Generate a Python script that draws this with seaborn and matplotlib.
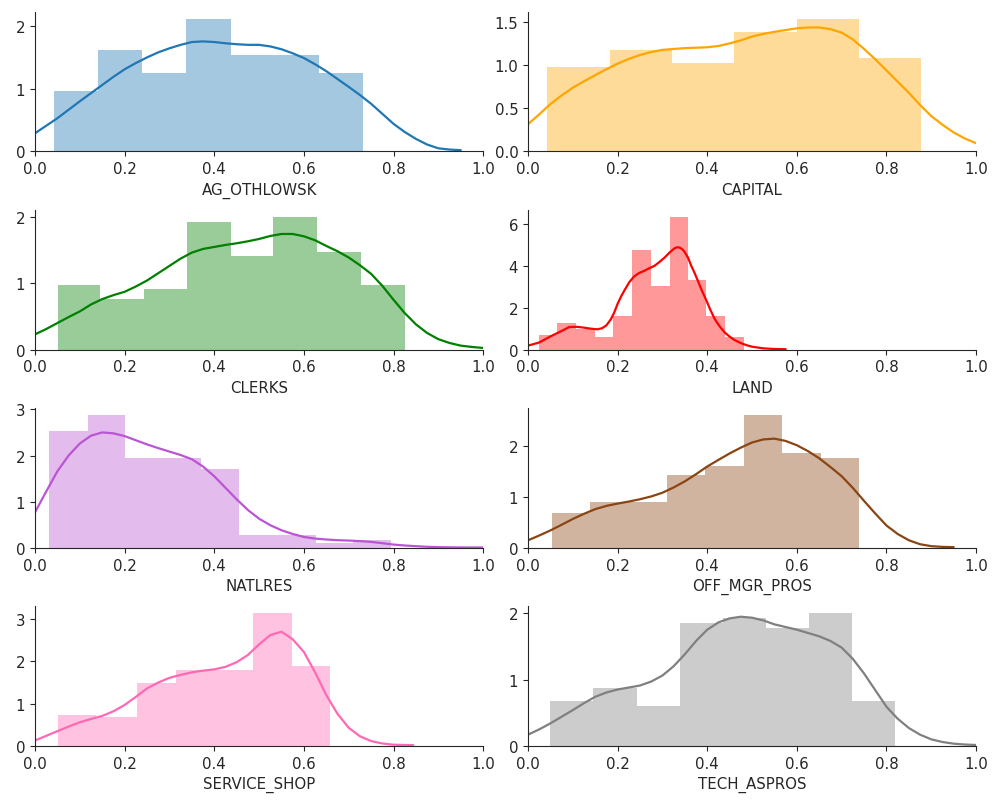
import pandas as pd
import matplotlib
matplotlib.use("Agg")
import matplotlib.pyplot as plt
import seaborn as sns

# ---------------- data ----------------
names = ["AG_OTHLOWSK", "CAPITAL", "CLERKS", "LAND",
         "NATLRES", "OFF_MGR_PROS", "SERVICE_SHOP", "TECH_ASPROS"]
colors = ["#1f77b4", "orange", "green", "red",
          "mediumorchid", "saddlebrown", "hotpink", "gray"]

# histogram bin edges and densities
ag_edges = [0.042, 0.1405, 0.2387, 0.336, 0.437, 0.535, 0.633, 0.731]
ag_heights = [0.956, 1.62, 1.25, 2.12, 1.54, 1.54, 1.25]

cap_edges = [0.0424, 0.182, 0.321, 0.460, 0.600, 0.739, 0.878]
cap_heights = [0.985, 1.18, 1.027, 1.39, 1.544, 1.084]

clk_edges = [0.0506, 0.1442, 0.2424, 0.3398, 0.437, 0.532, 0.629, 0.727, 0.825]
clk_heights = [0.978, 0.762, 0.909, 1.926, 1.405, 2.0, 1.474, 0.978]

land_edges = [0.0246, 0.0657, 0.1075, 0.149, 0.190, 0.232, 0.274, 0.316,
              0.357, 0.398, 0.440, 0.481]
land_heights = [0.705, 1.285, 1.0, 0.6, 1.6, 4.78, 3.04, 6.35, 3.34, 1.6, 0.58]

nat_edges = [0.032, 0.118, 0.200, 0.285, 0.3695, 0.4558, 0.5405, 0.626,
             0.7085, 0.794]
nat_heights = [2.53, 2.88, 1.95, 1.95, 1.71, 0.27, 0.27, 0.107, 0.18]

off_edges = [0.0535, 0.139, 0.225, 0.310, 0.396, 0.482, 0.567, 0.653, 0.738]
off_heights = [0.68, 0.90, 0.90, 1.43, 1.60, 2.60, 1.86, 1.756]

svc_edges = [0.0506, 0.1368, 0.2268, 0.3138, 0.400, 0.487, 0.5725, 0.659]
svc_heights = [0.736, 0.674, 1.496, 1.806, 1.806, 3.14, 1.88]

tech_edges = [0.0498, 0.145, 0.2424, 0.3398, 0.4357, 0.5316, 0.6268,
              0.7234, 0.8186]
tech_heights = [0.68, 0.88, 0.60, 1.85, 1.93, 1.78, 2.0, 0.68]

# kernel density curves (x, density)
kde_x = [0.0, 0.025, 0.05, 0.075, 0.1, 0.125, 0.15, 0.175, 0.2, 0.225,
         0.25, 0.275, 0.3, 0.325, 0.35, 0.375, 0.4, 0.425, 0.45, 0.475,
         0.5, 0.525, 0.55, 0.575, 0.6, 0.625, 0.65, 0.675, 0.7, 0.725,
         0.75, 0.775, 0.8, 0.825, 0.85, 0.875, 0.9, 0.925, 0.95, 0.975, 1.0]

ag_kde_x = kde_x[:39]
ag_kde_y = [0.29, 0.41, 0.53, 0.665, 0.80, 0.93, 1.06, 1.19, 1.31, 1.41,
            1.50, 1.58, 1.645, 1.70, 1.745, 1.755, 1.745, 1.725, 1.71, 1.70,
            1.70, 1.675, 1.63, 1.565, 1.49, 1.39, 1.28, 1.155, 1.03, 0.90,
            0.76, 0.60, 0.44, 0.31, 0.20, 0.11, 0.05, 0.03, 0.02]

cap_kde_x = kde_x
cap_kde_y = [0.316, 0.43, 0.55, 0.65, 0.74, 0.815, 0.886, 0.955, 1.02, 1.075,
             1.12, 1.155, 1.18, 1.19, 1.20, 1.205, 1.21, 1.225, 1.255, 1.29,
             1.335, 1.365, 1.39, 1.41, 1.43, 1.44, 1.44, 1.42, 1.38, 1.30,
             1.19, 1.07, 0.94, 0.81, 0.68, 0.54, 0.41, 0.31, 0.22, 0.15, 0.095]

clk_kde_x = kde_x
clk_kde_y = [0.23, 0.31, 0.40, 0.49, 0.575, 0.68, 0.76, 0.82, 0.87, 0.95,
             1.04, 1.15, 1.26, 1.37, 1.46, 1.515, 1.545, 1.575, 1.60, 1.63,
             1.665, 1.71, 1.74, 1.74, 1.705, 1.645, 1.56, 1.48, 1.386, 1.27,
             1.14, 0.96, 0.75, 0.55, 0.38, 0.25, 0.157, 0.10, 0.06, 0.04,
             0.025]

land_kde_x = [0.0, 0.025, 0.05, 0.075, 0.092, 0.108, 0.125, 0.14, 0.155,
              0.165, 0.175, 0.185, 0.193, 0.2, 0.208, 0.215, 0.226, 0.237,
              0.248, 0.26, 0.27, 0.282, 0.293, 0.3045, 0.316, 0.327, 0.333,
              0.338, 0.344, 0.349, 0.357, 0.364, 0.372, 0.379, 0.388, 0.398,
              0.407, 0.416, 0.424, 0.431, 0.44, 0.45, 0.46, 0.475, 0.488,
              0.5, 0.525, 0.55, 0.575]
land_kde_y = [0.19, 0.34, 0.63, 0.89, 1.08, 1.09, 1.05, 1.0, 0.97,
              1.02, 1.16, 1.45, 1.80, 2.19, 2.55, 2.82, 3.22, 3.50,
              3.66, 3.77, 3.88, 4.0, 4.18, 4.39, 4.64, 4.84, 4.89,
              4.88, 4.80, 4.68, 4.40, 4.02, 3.65, 3.29, 2.82, 2.35,
              1.90, 1.49, 1.22, 1.02, 0.80, 0.62, 0.47, 0.31, 0.21,
              0.14, 0.06, 0.03, 0.02]

nat_kde_x = kde_x
nat_kde_y = [0.77, 1.22, 1.66, 2.0, 2.26, 2.43, 2.50, 2.48, 2.42, 2.33,
             2.24, 2.16, 2.085, 2.01, 1.92, 1.76, 1.55, 1.30, 1.05, 0.82,
             0.63, 0.49, 0.38, 0.30, 0.235, 0.20, 0.18, 0.165, 0.157, 0.145,
             0.128, 0.10, 0.07, 0.05, 0.035, 0.022, 0.014, 0.01, 0.008,
             0.007, 0.007]

off_kde_x = kde_x[:39]
off_kde_y = [0.147, 0.24, 0.34, 0.45, 0.564, 0.665, 0.756, 0.82, 0.865, 0.905,
             0.95, 1.005, 1.077, 1.18, 1.30, 1.44, 1.59, 1.72, 1.846, 1.96,
             2.06, 2.12, 2.135, 2.09, 2.006, 1.89, 1.75, 1.58, 1.40, 1.17,
             0.917, 0.67, 0.436, 0.27, 0.147, 0.07, 0.032, 0.018, 0.013]

svc_kde_x = kde_x[:33] + [0.844]
svc_kde_y = [0.13, 0.24, 0.35, 0.46, 0.56, 0.64, 0.71, 0.82, 0.97, 1.16,
             1.36, 1.50, 1.61, 1.68, 1.74, 1.78, 1.81, 1.87, 1.98, 2.15,
             2.40, 2.62, 2.70, 2.52, 2.22, 1.74, 1.20, 0.76, 0.43, 0.23,
             0.116, 0.06, 0.03, 0.02]

tech_kde_x = kde_x
tech_kde_y = [0.17, 0.25, 0.34, 0.44, 0.54, 0.645, 0.74, 0.805, 0.85, 0.88,
              0.91, 0.97, 1.06, 1.20, 1.38, 1.58, 1.75, 1.86, 1.92, 1.945,
              1.93, 1.89, 1.83, 1.79, 1.75, 1.70, 1.65, 1.58, 1.48, 1.31,
              1.09, 0.84, 0.59, 0.41, 0.27, 0.17, 0.10, 0.06, 0.035, 0.022,
              0.015]

hists = [(ag_edges, ag_heights), (cap_edges, cap_heights),
         (clk_edges, clk_heights), (land_edges, land_heights),
         (nat_edges, nat_heights), (off_edges, off_heights),
         (svc_edges, svc_heights), (tech_edges, tech_heights)]
kdes = [(ag_kde_x, ag_kde_y), (cap_kde_x, cap_kde_y),
        (clk_kde_x, clk_kde_y), (land_kde_x, land_kde_y),
        (nat_kde_x, nat_kde_y), (off_kde_x, off_kde_y),
        (svc_kde_x, svc_kde_y), (tech_kde_x, tech_kde_y)]

# ---------------- plotting ----------------
sns.set_style("ticks")
fs = 10.8
plt.rcParams["font.family"] = ["DejaVu Sans"]
plt.rcParams["font.size"] = fs
plt.rcParams["xtick.labelsize"] = fs
plt.rcParams["ytick.labelsize"] = fs
plt.rcParams["axes.labelsize"] = fs

fig, axes = plt.subplots(4, 2, figsize=(9.92, 8.04), dpi=100)
fig.subplots_adjust(left=0.0353, right=0.984, top=0.984, bottom=0.0709,
                    hspace=0.42, wspace=0.1)

for ax, name, col, (edges, heights), (kx, ky) in zip(axes.flat, names, colors,
                                                    hists, kdes):
    centers = [(a + b) / 2 for a, b in zip(edges[:-1], edges[1:])]
    df = pd.DataFrame({"x": centers, "w": heights})
    sns.histplot(data=df, x="x", weights="w", bins=list(edges), stat="count",
                 color=col, alpha=0.4, linewidth=0, ax=ax)
    kdf = pd.DataFrame({"x": kx, "y": ky})
    sns.lineplot(data=kdf, x="x", y="y", color=col, linewidth=1.6, ax=ax,
                 sort=False)
    ax.set_xlim(0, 1)
    ax.set_xlabel(name)
    ax.set_ylabel("")
    sns.despine(ax=ax)

fig.savefig("out.png", dpi=100)
